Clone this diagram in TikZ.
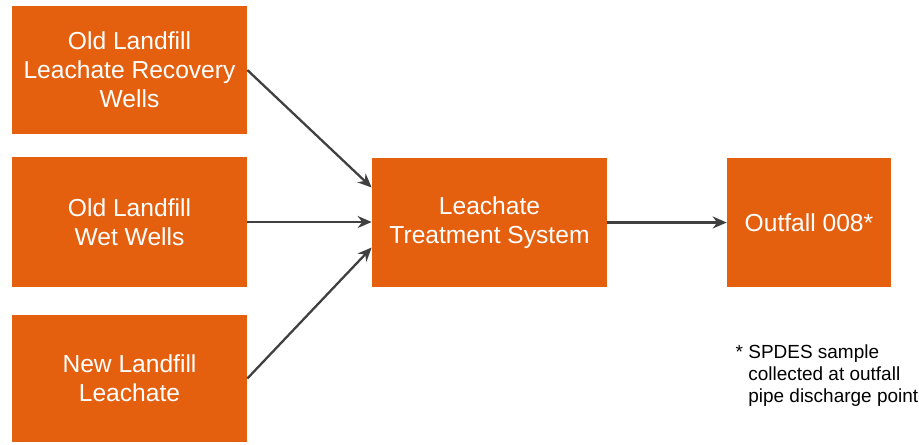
\documentclass[tikz,border=0pt]{standalone}
\usepackage{fontspec}
\setmainfont{Liberation Sans}
\usetikzlibrary{arrows.meta,calc}
\definecolor{boxorange}{HTML}{E4600F}
\definecolor{flowgray}{HTML}{404040}
\tikzset{
  srcbox/.style  = {fill=boxorange, draw=none, text=white, align=center,
                    minimum width=4.7cm, minimum height=2.56cm, inner sep=0pt,
                    font=\fontsize{14}{16.5}\selectfont},
  flow/.style    = {-{Stealth[length=2.8mm,width=2.4mm]}, line width=1.3pt, flowgray},
  notetext/.style= {align=left, inner sep=0pt, anchor=north west,
                    font=\fontsize{10.8}{12.5}\selectfont},
}
\begin{document}
\begin{tikzpicture}[x=0.02cm, y=-0.02cm]
\useasboundingbox (0,0) rectangle (919,444);
\node[srcbox] (oldwells) at (129.5, 70) {Old Landfill\\Leachate Recovery\\Wells};
\node[srcbox, minimum height=2.6cm] (wetwells) at (129.5, 222) {Old Landfill\\Wet Wells};
\node[srcbox, minimum height=2.54cm] (newleach) at (129.5, 378.5) {New Landfill\\Leachate};
\node[srcbox, minimum height=2.58cm] (lts) at (489.5, 222.5) {Leachate\\Treatment System};
\node[srcbox, minimum width=3.28cm, minimum height=2.58cm] (outfall) at (809, 222.5) {Outfall 008*};
\node[notetext] (note) at (748, 344) {\llap{*\ }SPDES sample\\collected at outfall\\pipe discharge point};
\draw[flow] (oldwells.east) -- ([yshift=0.7cm]lts.west);
\draw[flow] (wetwells.east) -- (lts.west |- wetwells.east);
\draw[flow] (newleach.east) -- ([yshift=-0.5cm]lts.west);
\draw[flow] (lts.east) -- (outfall.west);
\end{tikzpicture}
\end{document}
